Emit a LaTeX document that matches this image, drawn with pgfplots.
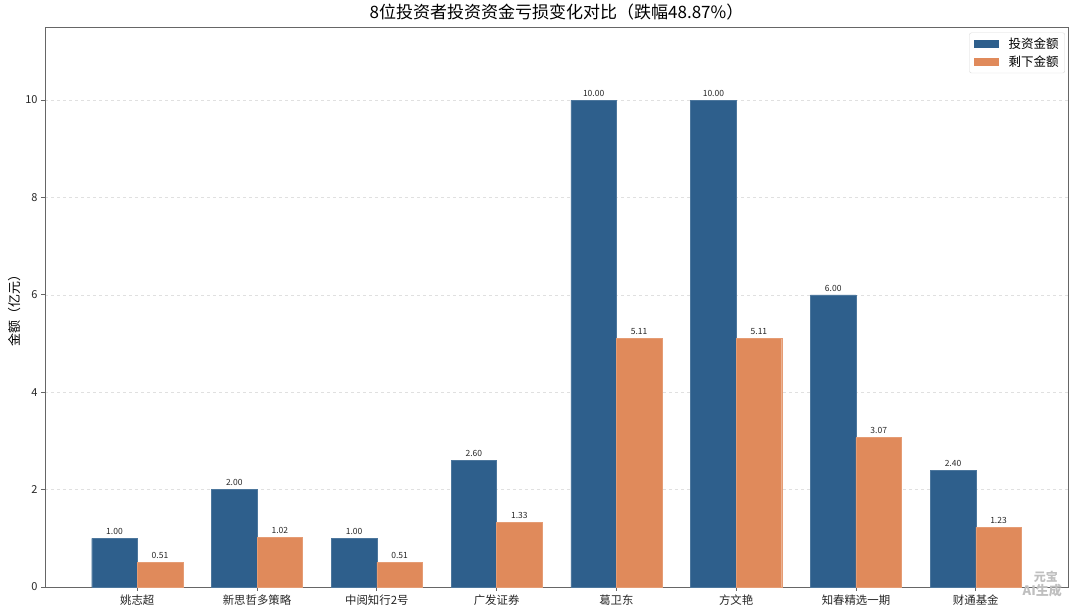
\documentclass[border=0pt]{standalone}
\usepackage{pgfplots}
\pgfplotsset{compat=1.18}
\usepackage{fontspec}
\setmainfont{Noto Sans CJK SC}
\pgfplotstableread{
x invest remain
0 1.00 0.51
1 2.00 1.02
2 1.00 0.51
3 2.60 1.33
4 10.00 5.11
5 10.00 5.11
6 6.00 3.07
7 2.40 1.23
}\datatable
\definecolor{cblue}{HTML}{2E5F8C}
\definecolor{corange}{HTML}{E08A5B}
\begin{document}
\begin{tikzpicture}
\begin{axis}[name=ax, scale only axis, width=1023pt, height=560pt,
  ybar, bar width=0.38,
  xmin=-0.77, xmax=7.77, ymin=0, ymax=11.5,
  xtick={0,...,7},
  xticklabels={姚志超,新思哲多策略,中阅知行2号,广发证券,葛卫东,方文艳,知春精选一期,财通基金},
  ytick={0,2,4,6,8,10},
  xtick pos=lower, ytick pos=left,
  tick align=outside, major tick length=4pt,
  axis line style={draw=black!60, line width=0.8pt},
  tick style={draw=black!60, line width=0.8pt},
  ymajorgrids, grid style={dashed, black!12, line width=0.5pt},
  ticklabel style={font=\fontsize{11}{12}\selectfont, text=black!85},
  xticklabel style={font=\fontsize{11.4}{12}\selectfont},
  /pgf/number format/assume math mode=true,
  title={8位投资者投资资金亏损变化对比（跌幅48.87\%）},
  title style={font=\fontsize{17}{20}\selectfont, yshift=-3pt},
  ylabel={金额（亿元）},
  ylabel style={font=\fontsize{13}{14}\selectfont, yshift=-2pt},
  legend style={at={(0.997,0.99)}, anchor=north east, font=\fontsize{12.5}{14}\selectfont,
    draw=black!15, rounded corners=2pt, row sep=2pt, inner xsep=4pt, inner ysep=3pt},
  legend image code/.code={\fill[#1,draw=none,sharp corners] (0pt,-4pt) rectangle (25pt,4pt); \path (33pt,0pt);},
  nodes near coords={\pgfmathprintnumber[fixed,fixed zerofill,precision=2]{\pgfplotspointmeta}},
  every node near coord/.append style={font=\fontsize{8.5}{9}\selectfont, text=black!85, inner sep=2pt, yshift=1.5pt},
]
\addplot[fill=cblue, draw=cblue!85!white, line width=0.4pt, bar shift=-0.19] table[x=x, y=invest] {\datatable};
\addlegendentry{投资金额}
\addplot[fill=corange, draw=corange!85!white, line width=0.4pt, bar shift=0.19] table[x=x, y=remain] {\datatable};
\addlegendentry{剩下金额}
\end{axis}
\node[anchor=south east, text=black!25, font=\bfseries\itshape\fontsize{13}{14}\selectfont, inner sep=0pt] (wm2) at ([xshift=-6pt, yshift=-10pt]ax.south east) {AI生成};
\node[anchor=south east, text=black!25, font=\bfseries\itshape\fontsize{12}{13}\selectfont, inner sep=0pt] at ([xshift=-4pt, yshift=1pt]wm2.north east) {元宝};
\path ([xshift=-45pt,yshift=-28pt]ax.south west) rectangle ([xshift=12pt,yshift=27pt]ax.north east);
\end{tikzpicture}
\end{document}
